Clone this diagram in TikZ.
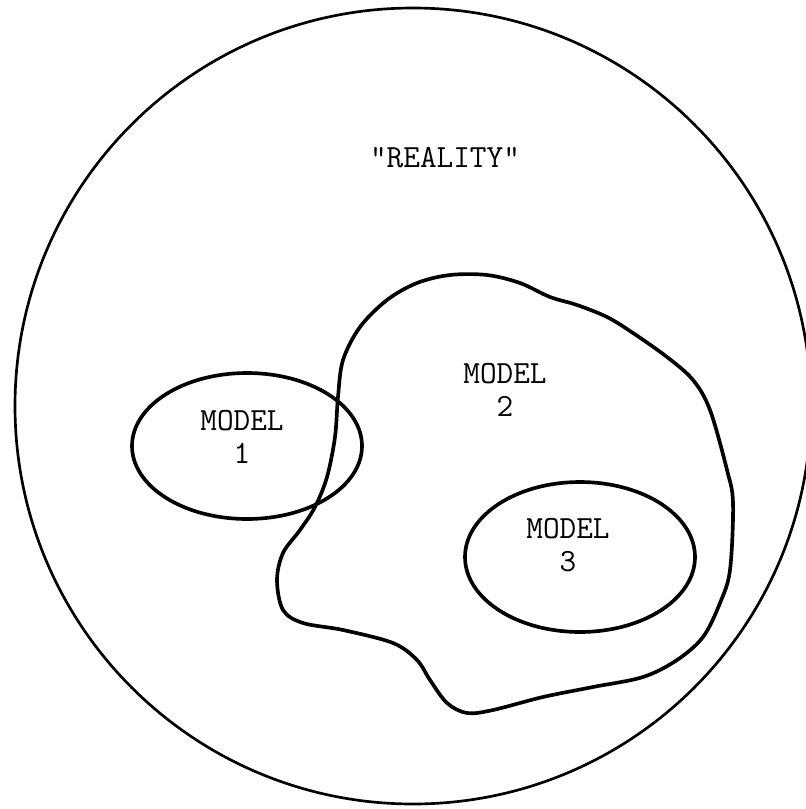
\documentclass[tikz,border=0pt]{standalone}
\usetikzlibrary{positioning}
\begin{document}
\begin{tikzpicture}[x=0.025cm, y=-0.025cm,
  region/.style={line width=2.6pt, line join=round},
  tag/.style={font=\ttfamily\fontsize{23}{24}\selectfont, align=center, inner sep=0pt}]
\useasboundingbox (0,0) rectangle (806,809);
% the whole of reality
\draw [line width=1.9pt] (413,406) circle [radius=398];
% model 2 (free-hand outline)
\draw [region] plot [smooth cycle, tension=0.55] coordinates {
  (450,275) (487,275) (520,283) (550,297) (577,305) (607,317) (633,333)
  (667,357) (693,380) (710,410) (727,470) (733,503) (730,570) (720,603)
  (703,637) (677,660) (643,677) (593,687) (543,697) (493,710) (467,713)
  (447,703) (430,680) (417,660) (393,643) (343,630) (303,623) (283,610)
  (277,580) (283,553) (300,530) (315,507) (327,477) (335,437) (338,397)
  (343,360) (360,327) (387,300) (417,283)};
% model 1 and model 3
\draw [region] (247,446) ellipse [x radius=115, y radius=73];
\draw [region] (580,557) ellipse [x radius=115, y radius=75];
% labels
\node [tag] (reality) at (445,158) {"REALITY"};
\node [tag] (m1) at (242,437) {MODEL\\1};
\node [tag] (m2) at (505,390) {MODEL\\2};
\node [tag] (m3) at (568,545) {MODEL\\3};
\end{tikzpicture}
\end{document}
